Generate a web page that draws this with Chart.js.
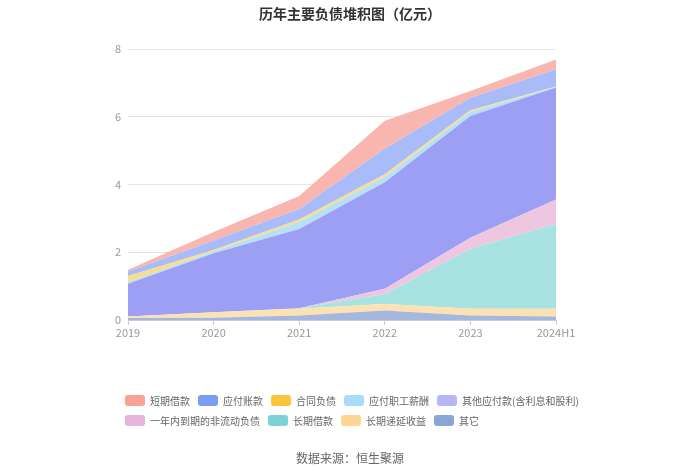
<!DOCTYPE html>
<html>
<head>
<meta charset="utf-8">
<script src="https://cdn.jsdelivr.net/npm/chart.js@4"></script>
<style>
  body { margin: 0; background: #fff; font-family: "Noto Sans CJK SC", sans-serif; }
  #wrap { position: relative; width: 700px; height: 474px; }
  #title { position: absolute; top: 3px; left: 0; width: 700px; text-align: center; font-size: 14px; font-weight: bold; color: #333; }
  #legend { position: absolute; left: 125px; top: 390px; width: 470px; display: flex; flex-wrap: wrap; font-size: 10px; color: #666; }
  .item { display: flex; align-items: center; height: 20px; margin-right: 8px; }
  .sw { width: 20px; height: 11px; border-radius: 3px; margin-right: 5px; }
  #source { position: absolute; top: 449px; left: 0; width: 700px; text-align: center; font-size: 12px; color: #666; }
</style>
</head>
<body>
<div id="wrap">
  <canvas id="chart" width="700" height="474"></canvas>
  <div id="title">历年主要负债堆积图（亿元）</div>
  <div id="legend"></div>
  <div id="source">数据来源：恒生聚源</div>
</div>
<script>
// years
const years = ['2019', '2020', '2021', '2022', '2023', '2024H1'];

// series, bottom of stack first
const qita = [0.06, 0.07, 0.13, 0.28, 0.13, 0.10];          // 其它
const diyanShouyi = [0.04, 0.16, 0.20, 0.19, 0.20, 0.23];   // 长期递延收益
const changqiJiekuan = [0, 0, 0.02, 0.30, 1.77, 2.51];      // 长期借款
const yinianNei = [0, 0, 0, 0.15, 0.33, 0.72];              // 一年内到期的非流动负债
const qitaYingfu = [0.97, 1.74, 2.34, 3.15, 3.59, 3.30];    // 其他应付款(含利息和股利)
const zhigongXinchou = [0.05, 0.05, 0.20, 0.15, 0.12, 0.02];// 应付职工薪酬
const hetongFuzhai = [0.18, 0.05, 0.08, 0.08, 0.05, 0.01];  // 合同负债
const yingfuZhangkuan = [0.13, 0.28, 0.31, 0.76, 0.37, 0.51]; // 应付账款
const duanqiJiekuan = [0.05, 0.25, 0.38, 0.82, 0.20, 0.29]; // 短期借款

const series = [
    { label: '其它', data: qita, fill: '#a4b7df', swatch: '#8aa6d9' },
    { label: '长期递延收益', data: diyanShouyi, fill: '#fde1b1', swatch: '#fed593' },
    { label: '长期借款', data: changqiJiekuan, fill: '#a8e3e2', swatch: '#7ed2d5' },
    { label: '一年内到期的非流动负债', data: yinianNei, fill: '#eec6e0', swatch: '#e6b4da' },
    { label: '其他应付款(含利息和股利)', data: qitaYingfu, fill: '#9d9ff5', swatch: '#b7b7f6' },
    { label: '应付职工薪酬', data: zhigongXinchou, fill: '#b5e0f5', swatch: '#a8dcf8' },
    { label: '合同负债', data: hetongFuzhai, fill: '#f9dc8c', swatch: '#fcc43b' },
    { label: '应付账款', data: yingfuZhangkuan, fill: '#a9bcf9', swatch: '#7b9cf5' },
    { label: '短期借款', data: duanqiJiekuan, fill: '#f9b6ae', swatch: '#f9a196' }
];

const datasets = series.map((s, i) => ({
    label: s.label,
    data: s.data,
    backgroundColor: s.fill,
    borderWidth: 0,
    pointRadius: 0,
    tension: 0,
    fill: i === 0 ? 'origin' : '-1'
}));

new Chart(document.getElementById('chart'), {
    type: 'line',
    data: { labels: years, datasets: datasets },
    options: {
        responsive: false,
        animation: false,
        layout: { padding: { left: 0, right: 144, top: 49, bottom: 0 } },
        plugins: { legend: { display: false }, tooltip: { enabled: false } },
        scales: {
            x: {
                grid: { drawOnChartArea: false, drawTicks: true, tickLength: 5, color: '#ccc' },
                border: { color: '#ccc' },
                ticks: { color: '#999', font: { size: 11, family: 'Noto Sans CJK SC' }, padding: 1, maxRotation: 0 },
                afterFit: scale => { scale.height = 154; }
            },
            y: {
                stacked: true,
                min: 0,
                max: 8,
                grid: { color: '#e6e6e6', drawTicks: false },
                border: { display: false },
                ticks: { stepSize: 2, color: '#999', font: { size: 11, family: 'Noto Sans CJK SC' }, padding: 7 },
                afterFit: scale => { scale.width = 128; }
            }
        }
    }
});

// legend, top of stack first
const legend = document.getElementById('legend');
series.slice().reverse().forEach(s => {
    const item = document.createElement('div');
    item.className = 'item';
    item.innerHTML = '<span class="sw" style="background:' + s.swatch + '"></span>' + s.label;
    legend.appendChild(item);
});
</script>
</body>
</html>
